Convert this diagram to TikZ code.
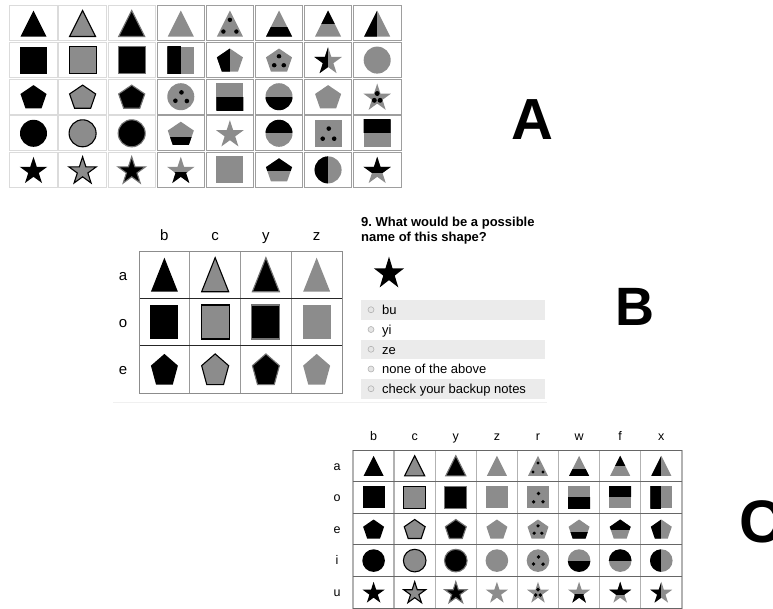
\documentclass[tikz,border=0pt]{standalone}
\usepackage{fontspec}
\setmainfont{Liberation Sans}
\frenchspacing
\definecolor{sg}{RGB}{140,140,140}
\definecolor{optbg}{RGB}{235,235,235}
% unit shape paths (y axis points down)
\def\myPtri{(0,-1) -- (1,1) -- (-1,1) -- cycle}
\def\myPsq{(-1,-1) rectangle (1,1)}
\def\myPcirc{(0,0) circle[radius=1]}
\def\myPpent{(0,-0.905) -- (0.951,-0.214) -- (0.588,0.904) -- (-0.588,0.904) -- (-0.951,-0.214) -- cycle}
\def\myPstar{(0,-0.905) -- (0.2245,-0.214) -- (0.951,-0.214) -- (0.3633,0.213) -- (0.588,0.904) -- (0,0.477) -- (-0.588,0.904) -- (-0.3633,0.213) -- (-0.951,-0.214) -- (-0.2245,-0.214) -- cycle}
% dots
\def\dr{.17}
\def\myDtri{(0,-0.28) circle[radius=\dr] (-0.5,0.62) circle[radius=\dr] (0.5,0.62) circle[radius=\dr]}
\def\myDsq{(0.05,-0.35) circle[radius=\dr] (-0.4,0.4) circle[radius=\dr] (0.45,0.4) circle[radius=\dr]}
\def\myDpent{(0,-0.3) circle[radius=\dr] (-0.35,0.4) circle[radius=\dr] (0.35,0.4) circle[radius=\dr]}
\def\myDcirc{(0.05,-0.32) circle[radius=\dr] (-0.4,0.3) circle[radius=\dr] (0.45,0.32) circle[radius=\dr]}
\def\myDstar{(0,-0.22) circle[radius=\dr] (-0.2,0.25) circle[radius=\dr] (0.2,0.25) circle[radius=\dr]}
% split thresholds
\def\myWtri{0.3}\def\myWsq{0}\def\myWpent{0.25}\def\myWcirc{0}\def\myWstar{0.12}
\def\myFtri{0}\def\myFsq{0}\def\myFpent{0.1}\def\myFcirc{0}\def\myFstar{0.2}
% styles
\newcommand\mySb[1]{\fill[black] \curP;}
\newcommand\mySc[1]{\filldraw[fill=sg,draw=black,line width=1.1pt] \curP;}
\newcommand\mySy[1]{\filldraw[fill=black,draw=black!55,line width=1.1pt] \curP;}
\newcommand\mySz[1]{\fill[sg] \curP;}
\newcommand\mySr[1]{\fill[sg] \curP;\expandafter\let\expandafter\curD\csname myD#1\endcsname\fill[black] \curD;}
\newcommand\mySw[1]{\fill[sg] \curP;\edef\thr{\csname myW#1\endcsname}\begin{scope}\clip \curP;\fill[black] (-2,\thr) rectangle (2,2);\end{scope}}
\newcommand\mySf[1]{\fill[sg] \curP;\edef\thr{\csname myF#1\endcsname}\begin{scope}\clip \curP;\fill[black] (-2,-2) rectangle (2,\thr);\end{scope}}
\newcommand\mySx[1]{\fill[sg] \curP;\begin{scope}\clip \curP;\fill[black] (-2,-2) rectangle (0,2);\end{scope}}
% #1 type #2 style #3 x #4 y #5 xscale #6 yscale
\newcommand\myshape[6]{\begin{scope}[shift={(#3,#4)},xscale=#5,yscale=#6]%
\expandafter\let\expandafter\curP\csname myP#1\endcsname
\csname myS#2\endcsname{#1}\end{scope}}
% per-panel scales
\def\KAXtri{13}\def\KAYtri{13}\def\KAXsq{13.5}\def\KAYsq{13.5}\def\KAXpent{13.7}\def\KAYpent{12.8}\def\KAXcirc{13.5}\def\KAYcirc{13.5}\def\KAXstar{14.5}\def\KAYstar{14.5}
\def\KBXtri{13.5}\def\KBYtri{17}\def\KBXsq{14}\def\KBYsq{17}\def\KBXpent{14.2}\def\KBYpent{17}
\def\KCXtri{10}\def\KCYtri{10}\def\KCXsq{11}\def\KCYsq{11}\def\KCXpent{11}\def\KCYpent{10.5}\def\KCXcirc{11.3}\def\KCYcirc{11.3}\def\KCXstar{11.5}\def\KCYstar{11.5}
\newcommand\cellA[4]{%
\pgfmathsetmacro\cx{33.5+49.1*(#1-1)}\pgfmathsetmacro\cy{23.5+36.6*(#2-1)}%
\pgfmathsetmacro\bx{9+49.1*(#1-1)}\pgfmathsetmacro\by{5+36.6*(#2-1)}%
\ifnum#1<4 \def\bc{black!14}\else\def\bc{black!38}\fi
\draw[\bc,line width=0.9pt] (\bx+0.8,\by+0.8) rectangle ++(47.5,35);
\myshape{#3}{#4}{\cx}{\cy}{\csname KAX#3\endcsname}{\csname KAY#3\endcsname}}
\newcommand\cellB[4]{%
\pgfmathsetmacro\cx{164.4+50.75*(#1-1)}\pgfmathsetmacro\cy{274.7+47.3*(#2-1)}%
\myshape{#3}{#4}{\cx}{\cy}{\csname KBX#3\endcsname}{\csname KBY#3\endcsname}}
\newcommand\cellC[4]{%
\pgfmathsetmacro\cx{373.6+41.1*(#1-1)}\pgfmathsetmacro\cy{465.8+31.6*(#2-1)}%
\myshape{#3}{#4}{\cx}{\cy}{\csname KCX#3\endcsname}{\csname KCY#3\endcsname}}
\begin{document}
\begin{tikzpicture}[x=1pt,y=-1pt,
  collab/.style={font=\fontsize{15}{15}\selectfont,anchor=base,inner sep=0pt},
  ccollab/.style={font=\fontsize{12.5}{12.5}\selectfont,anchor=base,inner sep=0pt},
  opttext/.style={font=\fontsize{13}{15}\selectfont,anchor=base west,inner sep=0pt},
  qtext/.style={font=\fontsize{13}{15}\selectfont\bfseries,anchor=base west,inner sep=0pt},
  radio/.style={draw=black!30,fill=black!10,line width=0.6pt},
  biglab/.style={font=\bfseries,inner sep=0pt}]
\useasboundingbox (0,0) rectangle (773,608);
\clip (0,0) rectangle (773,608);
\fill[white] (0,0) rectangle (773,608);
% ---------------- Panel A
\cellA{1}{1}{tri}{b}\cellA{2}{1}{tri}{c}\cellA{3}{1}{tri}{y}\cellA{4}{1}{tri}{z}
\cellA{5}{1}{tri}{r}\cellA{6}{1}{tri}{w}\cellA{7}{1}{tri}{f}\cellA{8}{1}{tri}{x}
\cellA{1}{2}{sq}{b}\cellA{2}{2}{sq}{c}\cellA{3}{2}{sq}{y}\cellA{4}{2}{sq}{x}
\cellA{5}{2}{pent}{x}\cellA{6}{2}{pent}{r}\cellA{7}{2}{star}{x}\cellA{8}{2}{circ}{z}
\cellA{1}{3}{pent}{b}\cellA{2}{3}{pent}{c}\cellA{3}{3}{pent}{y}\cellA{4}{3}{circ}{r}
\cellA{5}{3}{sq}{w}\cellA{6}{3}{circ}{w}\cellA{7}{3}{pent}{z}\cellA{8}{3}{star}{r}
\cellA{1}{4}{circ}{b}\cellA{2}{4}{circ}{c}\cellA{3}{4}{circ}{y}\cellA{4}{4}{pent}{w}
\cellA{5}{4}{star}{z}\cellA{6}{4}{circ}{f}\cellA{7}{4}{sq}{r}\cellA{8}{4}{sq}{f}
\cellA{1}{5}{star}{b}\cellA{2}{5}{star}{c}\cellA{3}{5}{star}{y}\cellA{4}{5}{star}{w}
\cellA{5}{5}{sq}{z}\cellA{6}{5}{pent}{f}\cellA{7}{5}{circ}{x}\cellA{8}{5}{star}{f}
\node[biglab] (labA) at (532.5,120) {\fontsize{58}{58}\selectfont A};
% ---------------- Panel B
\draw[black!6,line width=1pt] (113,402) -- (547,402);
\foreach \k in {1,2,3} \draw[black!40,line width=1.3pt] (139+50.75*\k,251) -- (139+50.75*\k,393);
\foreach \j in {1,2} \draw[black!85,line width=1.1pt] (139,251+47.3*\j) -- (342,251+47.3*\j);
\draw[black!45,line width=1pt] (139,251) rectangle (342,393);
\cellB{1}{1}{tri}{b}\cellB{2}{1}{tri}{c}\cellB{3}{1}{tri}{y}\cellB{4}{1}{tri}{z}
\cellB{1}{2}{sq}{b}\cellB{2}{2}{sq}{c}\cellB{3}{2}{sq}{y}\cellB{4}{2}{sq}{z}
\cellB{1}{3}{pent}{b}\cellB{2}{3}{pent}{c}\cellB{3}{3}{pent}{y}\cellB{4}{3}{pent}{z}
\node[collab] (Bb) at (164.4,240.7) {b};
\node[collab] (Bc) at (215.1,240.7) {c};
\node[collab] (By) at (265.9,240.7) {y};
\node[collab] (Bz) at (316.6,240.7) {z};
\node[collab] (Ba) at (123,280) {a};
\node[collab] (Bo) at (123,327.3) {o};
\node[collab] (Be) at (123,374.6) {e};
\node[qtext] (q1) at (361,226.5) {9. What would be a possible};
\node[qtext] (q2) at (361,241.5) {name of this shape?};
\myshape{star}{b}{389}{272}{15.8}{17}
\foreach \i/\t in {0/bu,1/yi,2/ze,3/none of the above,4/check your backup notes}{
  \pgfmathsetmacro\ty{300+19.75*\i}
  \ifodd\i\else\fill[optbg] (361,\ty) rectangle (545,\ty+19.5);\fi
  \draw[radio] (371,\ty+9.75) circle[radius=3];
  \node[opttext] (opt\i) at (382,\ty+14.5) {\t};
}
\node[biglab] (labB) at (634.5,306.5) {\fontsize{54}{54}\selectfont B};
% ---------------- Panel C
\foreach \k in {0,...,8} \draw[black!30,line width=1.4pt] (353+41.1*\k,450) -- (353+41.1*\k,610);
\foreach \j in {0,...,5} \draw[black!60,line width=1pt] (353,450+31.6*\j) -- (682,450+31.6*\j);
\foreach \t [count=\r] in {tri,sq,pent,circ,star}{
  \foreach \s [count=\c] in {b,c,y,z,r,w,f,x}{\cellC{\c}{\r}{\t}{\s}}}
\foreach \l [count=\c] in {b,c,y,z,r,w,f,x}{
  \node[ccollab] (Cc\c) at (373.6+41.1*\c-41.1,440.7) {\l};}
\foreach \l [count=\r] in {a,o,e,i,u}{
  \node[ccollab] (Cr\r) at (337,470+31.6*\r-31.6) {\l};}
\node[biglab,anchor=west] (labC) at (739,522) {\fontsize{60}{60}\selectfont C};
\end{tikzpicture}
\end{document}
